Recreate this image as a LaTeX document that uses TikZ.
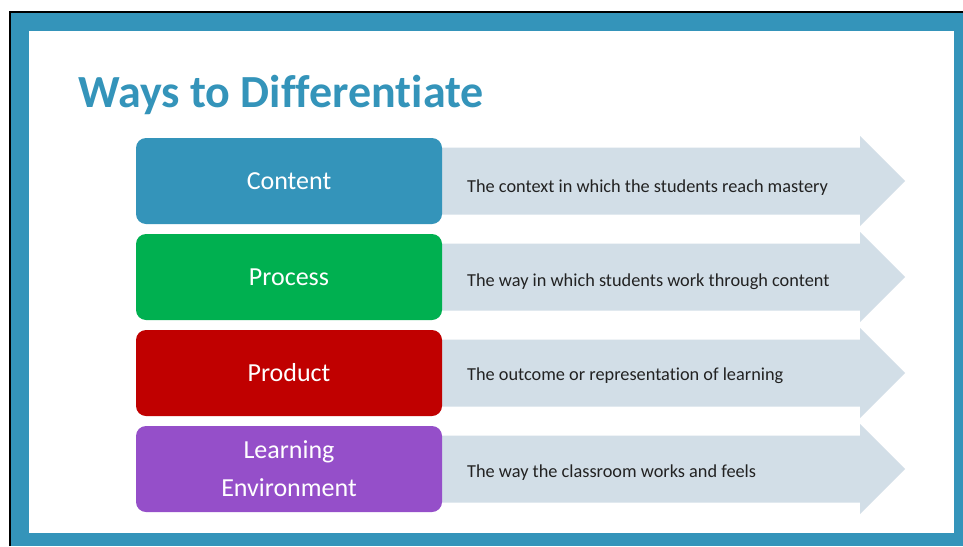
\documentclass[tikz,border=0pt]{standalone}
\usepackage{fontspec}
\setmainfont[Ligatures={NoCommon}]{Carlito}
\definecolor{frameblue}{HTML}{3494BA}
\definecolor{cgreen}{HTML}{00B050}
\definecolor{cred}{HTML}{C00000}
\definecolor{cpurple}{HTML}{954FC9}
\definecolor{arrowfill}{HTML}{D2DEE7}
\definecolor{txt}{HTML}{222222}
\begin{document}
\begin{tikzpicture}[x=1pt,y=-1pt,
  catbox/.style={rounded corners=10pt, minimum width=306pt, minimum height=86pt, inner sep=0pt,
    text=white, font=\fontsize{26}{38}\selectfont, align=center},
  desc/.style={anchor=west, inner sep=0pt, text=txt, font=\fontsize{18.3}{22}\selectfont}]
\useasboundingbox (0,0) rectangle (963,546);
% frame
\fill[frameblue] (11,13) rectangle (963,546);
\fill[white] (29,31) rectangle (954,533);
\draw[black, line width=2pt] (10,546) -- (10,12) -- (963,12);
% title
\node[anchor=base west, inner sep=0pt, text=frameblue, font=\fontsize{46}{52}\selectfont\bfseries] (title) at (78,107) {Ways to Differentiate};
% rows
\foreach \i/\c/\lab/\d/\off in {0/frameblue/Content/The context in which the students reach mastery/7,
  1/cgreen/Process/The way in which students work through content/5,
  2/cred/Product/The outcome or representation of learning/3,
  3/cpurple/{Learning\\Environment}/The way the classroom works and feels/4}{
  \pgfmathsetmacro{\yc}{181+96*\i}
  \fill[arrowfill] (440,\yc-33.5) -- (860,\yc-33.5) -- (860,\yc-45) -- (905,\yc) -- (860,\yc+45) -- (860,\yc+33.5) -- (440,\yc+33.5) -- cycle;
  \node[catbox, fill=\c] (box\i) at (289,\yc) {\lab};
  \node[desc] (desc\i) at (467,\yc+\off) {\d};
}
\end{tikzpicture}
\end{document}
